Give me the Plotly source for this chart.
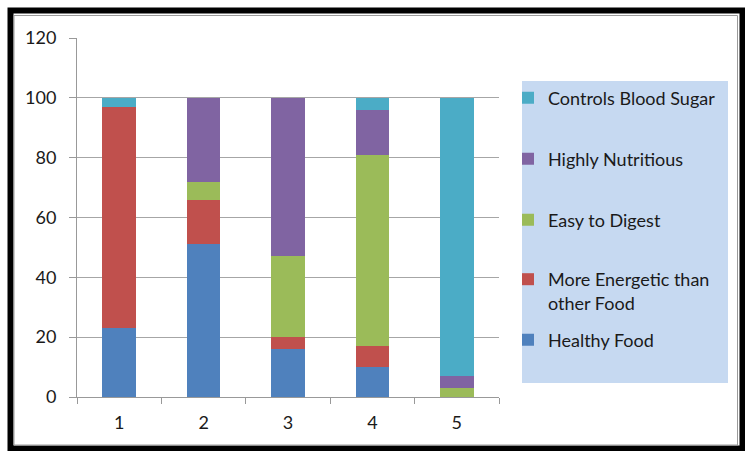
import plotly.graph_objects as go

categories = ["1", "2", "3", "4", "5"]
healthy_food = [23, 51, 16, 10, 0]
more_energetic = [74, 15, 4, 7, 0]
easy_to_digest = [0, 6, 27, 64, 3]
highly_nutritious = [0, 28, 53, 15, 4]
controls_blood_sugar = [3, 0, 0, 4, 93]

series_names = ["Healthy Food", "More Energetic than<br>other Food", "Easy to Digest",
                "Highly Nutritious", "Controls Blood Sugar"]
series_values = [healthy_food, more_energetic, easy_to_digest, highly_nutritious, controls_blood_sugar]
series_colors = ["#4F81BD", "#C0504D", "#9BBB59", "#8064A2", "#4BACC6"]
legend_ids = ["legend5", "legend4", "legend3", "legend2", "legend"]

W, H = 745, 451
L, R, T, B = 77, 499, 38, 397  # plot area in pixels
pw, ph = R - L, B - T

def px(x):
    return (x - L) / pw

def py(y):
    return (B - y) / ph

FONT = "Lato"
FS = 18

fig = go.Figure()
for name, vals, col, lid in zip(series_names, series_values, series_colors, legend_ids):
    fig.add_trace(go.Bar(x=categories, y=vals, name=name, marker=dict(color=col, line=dict(width=0)),
                         legend=lid))

legend_centers = {"legend": 98, "legend2": 159, "legend3": 220, "legend4": 291, "legend5": 340}
legend_left = 508
legends = {}
for lid, cy in legend_centers.items():
    legends[lid] = dict(x=px(legend_left), xanchor="left", y=py(cy), yanchor="middle",
                        bgcolor="rgba(0,0,0,0)", borderwidth=0, valign="top",
                        font=dict(family=FONT, size=FS, color="#1a1a1a"))

fig.update_layout(
    width=W, height=H,
    margin=dict(l=L, r=W - R, t=T, b=H - B, pad=0),
    paper_bgcolor="white", plot_bgcolor="white",
    barmode="stack", bargap=0.6,
    showlegend=True,
    font=dict(family=FONT, size=FS, color="#1a1a1a"),
    xaxis=dict(type="category", range=[-0.5, 4.5], tickson="boundaries", ticks="outside",
               ticklen=6, tickcolor="#999999", showline=True, linecolor="#999999", linewidth=1,
               showgrid=False, tickfont=dict(family=FONT, size=FS, color="#1a1a1a"),
               ticklabelstandoff=9),
    yaxis=dict(range=[0, 120], dtick=20, ticks="outside", ticklen=7, tickcolor="#999999",
               showline=True, linecolor="#999999", linewidth=1, showgrid=True,
               gridcolor="#A6A6A6", gridwidth=1, zeroline=False,
               tickfont=dict(family=FONT, size=FS, color="#1a1a1a"), ticklabelstandoff=9),
    shapes=[
        dict(type="rect", xref="paper", yref="paper", x0=px(522), x1=px(728), y0=py(383), y1=py(81),
             fillcolor="#C6D9F1", line=dict(width=0), layer="below"),
        dict(type="rect", xref="paper", yref="paper", x0=px(10.5), x1=px(742.5), y0=py(448.5), y1=py(10.5),
             line=dict(color="black", width=6), fillcolor="rgba(0,0,0,0)", layer="above"),
        dict(type="rect", xref="paper", yref="paper", x0=px(14), x1=px(737.5), y0=py(445), y1=py(15.5),
             line=dict(color="#9a9a9a", width=1), fillcolor="rgba(0,0,0,0)", layer="above"),
    ],
    **legends,
)

fig.write_html("out.html")
